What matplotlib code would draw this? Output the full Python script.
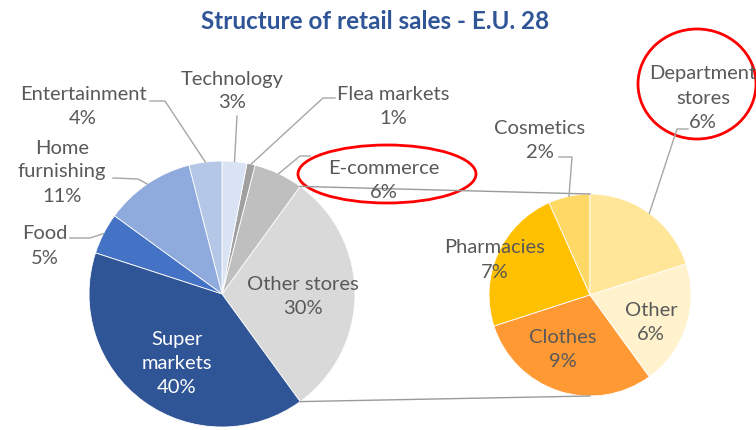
import numpy as np
import matplotlib
matplotlib.use("Agg")
import matplotlib.pyplot as plt
from matplotlib.patches import Ellipse

plt.rcParams['font.family'] = ['Lato', 'DejaVu Sans']

# main pie (counterclockwise from the split slice)
main_labels = ["Other stores", "E-commerce", "Flea markets", "Technology",
               "Entertainment", "Home\nfurnishing", "Food", "Super\nmarkets"]
main_values = [30, 6, 1, 3, 4, 11, 5, 40]
main_colors = ["#D9D9D9", "#BFBFBF", "#A0A0A0", "#DAE3F3",
               "#B4C7E7", "#8FAADC", "#4472C4", "#2F5597"]

# secondary pie: breakdown of "Other stores"
sec_labels = ["Cosmetics", "Pharmacies", "Clothes", "Other", "Department\nstores"]
sec_values = [2, 7, 9, 6, 6]
sec_colors = ["#FFD966", "#FFC000", "#FF9933", "#FFF2CC", "#FFE699"]

W, H = 756, 431
fig = plt.figure(figsize=(W / 100, H / 100), dpi=100)
ax = fig.add_axes([0, 0, 1, 1])


def P(x, y):
    # pixel coords (top-left origin) -> data coords
    return x, H - y


c1, r1 = P(222, 295), 133
c2, r2 = P(590, 296), 101
start1 = -main_values[0] / sum(main_values) * 360 / 2

w1, _ = ax.pie(main_values, colors=main_colors, startangle=start1, radius=r1,
               center=c1, wedgeprops=dict(edgecolor="white", linewidth=0.6))
w2, _ = ax.pie(sec_values, colors=sec_colors, startangle=90, radius=r2,
               center=c2, wedgeprops=dict(edgecolor="white", linewidth=0.6))

ax.set_xlim(0, W)
ax.set_ylim(0, H)
ax.set_aspect("equal")
ax.axis("off")


def edge(center, r, ang):
    a = np.deg2rad(ang)
    return center[0] + r * np.cos(a), center[1] + r * np.sin(a)


def mid(w):
    return (w.theta1 + w.theta2) / 2


lc = "#A6A6A6"
# connector lines between the two pies
top1 = edge(c1, r1, w1[0].theta2)
bot1 = edge(c1, r1, w1[0].theta1)
top2 = edge(c2, r2, 90)
bot2 = edge(c2, r2, -90)
ax.plot([top1[0], top2[0]], [top1[1], top2[1]], color="#9A9A9A", lw=1.0)
ax.plot([bot1[0], bot2[0]], [bot1[1], bot2[1]], color="#9A9A9A", lw=1.0)

tc = "#595959"
fs = 14.5
ls = 1.5
pct = [f"{v}%" for v in main_values]
spct = [f"{v}%" for v in sec_values]

# label positions (pixel centres)
main_pos = [(303, 297), (384, 180), (393, 106), (232, 91),
            (83, 107), (62, 172), (45, 246), (177, 364)]
sec_pos = [(540, 140), (495, 260), (563, 350), (651, 323), (703, 98)]

for i, (lab, p) in enumerate(zip(main_labels, main_pos)):
    col = "white" if i == 7 else tc
    ax.text(*P(*p), f"{lab}\n{pct[i]}", ha="center", va="center",
            fontsize=fs, color=col, linespacing=ls)
for i, (lab, p) in enumerate(zip(sec_labels, sec_pos)):
    ax.text(*P(*p), f"{lab}\n{spct[i]}", ha="center", va="center",
            fontsize=fs, color=tc, linespacing=ls)

# leader lines: (wedge, elbow points in pixels)
leaders = [
    (w1[4], [(150, 102), (165, 102)]),
    (w1[3], [(237, 117)]),
    (w1[2], [(335, 99), (323, 99)]),
    (w1[5], [(113, 179), (138, 180)]),
    (w1[6], [(70, 239), (90, 239)]),
    (w1[1], [(310, 157), (300, 157)]),
]
for w, pts in leaders:
    e = edge(c1, r1, mid(w))
    xs = [P(*q)[0] for q in pts] + [e[0]]
    ys = [P(*q)[1] for q in pts] + [e[1]]
    ax.plot(xs, ys, color=lc, lw=1.0)

sec_leaders = [
    (w2[0], [(559, 158), (572, 158)]),
    (w2[4], [(688, 130), (677, 130)]),
]
for w, pts in sec_leaders:
    e = edge(c2, r2, mid(w))
    xs = [P(*q)[0] for q in pts] + [e[0]]
    ys = [P(*q)[1] for q in pts] + [e[1]]
    ax.plot(xs, ys, color=lc, lw=1.0)

# red highlight ellipses
ax.add_patch(Ellipse(P(387, 175), 178, 58, fill=False, ec="#FF0000", lw=2))
ax.add_patch(Ellipse(P(697, 85), 118, 110, fill=False, ec="#FF0000", lw=2))

ax.text(*P(375, 21), "Structure of retail sales - E.U. 28", ha="center",
        va="center", fontsize=17.5, fontweight="bold", color="#2F5597")

fig.savefig("out.png", dpi=100)
